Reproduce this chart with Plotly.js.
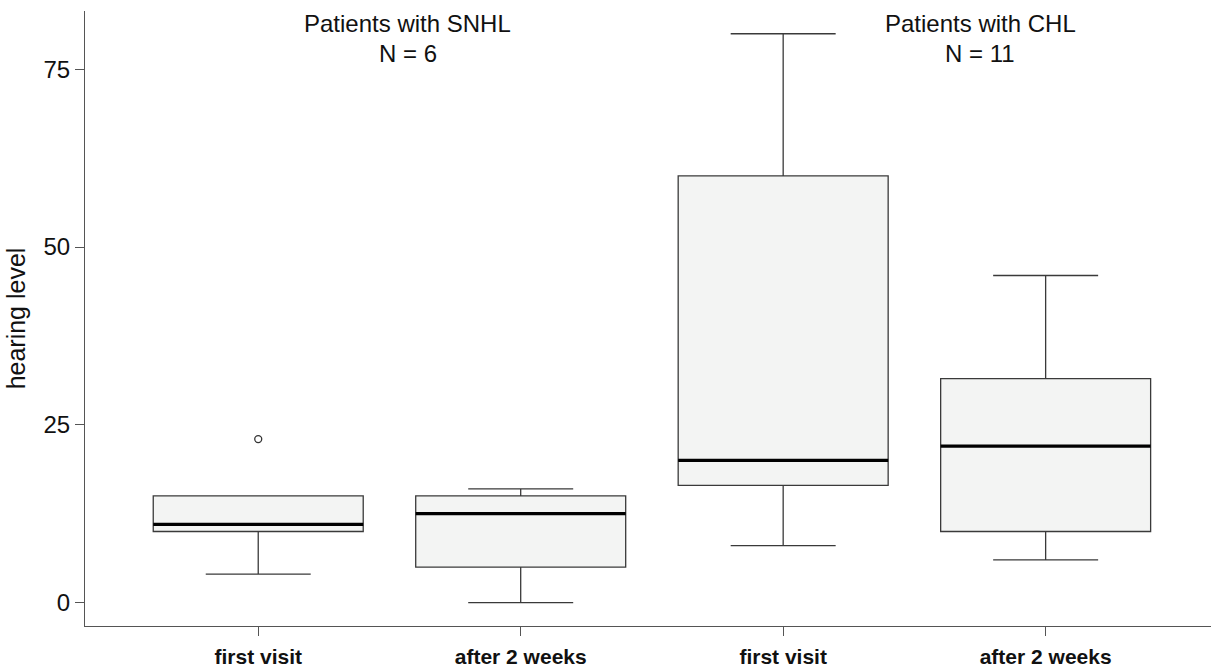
<!DOCTYPE html>
<html>
<head>
<meta charset="utf-8">
<script src="https://cdn.plot.ly/plotly-3.0.1.min.js"></script>
<style>html,body{margin:0;padding:0;background:#fff;}#chart{width:1211px;height:668px;}</style>
</head>
<body>
<div id="chart"></div>
<script>
// Data
const categories = ["first visit", "after 2 weeks", "first visit", "after 2 weeks"];
const positions = [0, 1, 2, 3];
const lowerFence = [4, 0, 8, 6];
const q1 = [10, 5, 16.5, 10];
const medians = [11, 12.5, 20, 22];
const q3 = [15, 15, 60, 31.5];
const upperFence = [15, 16, 80, 46];
const outlierX = [0];
const outlierY = [23];
const groupTitles = ["Patients with SNHL", "Patients with CHL"];
const groupCounts = ["N = 6", "N = 11"];
const groupLabelX = [0.57, 2.75];

const boxWidth = 0.8;

const traces = [{
  type: 'box',
  x: positions,
  q1: q1,
  median: medians,
  q3: q3,
  lowerfence: lowerFence,
  upperfence: upperFence,
  width: boxWidth,
  whiskerwidth: 0.5,
  fillcolor: '#f3f4f3',
  line: {color: '#3a3a3a', width: 1.3},
  boxpoints: false,
  hoverinfo: 'skip',
  showlegend: false
}];

// Thick median lines
positions.forEach((p, i) => {
  traces.push({
    type: 'scatter',
    mode: 'lines',
    x: [p - boxWidth / 2, p + boxWidth / 2],
    y: [medians[i], medians[i]],
    line: {color: '#000', width: 3.2},
    hoverinfo: 'skip',
    showlegend: false
  });
});

traces.push({
  type: 'scatter',
  mode: 'markers',
  x: outlierX,
  y: outlierY,
  marker: {symbol: 'circle-open', size: 7, color: '#333', line: {width: 1.3, color: '#333'}},
  hoverinfo: 'skip',
  showlegend: false
});

const annFont = {size: 24, color: '#111', family: 'Liberation Sans, Arial, sans-serif'};
const annotations = [];
groupTitles.forEach((t, i) => {
  annotations.push({text: t, x: groupLabelX[i], xref: 'x', y: 0.9789, yref: 'paper',
    yanchor: 'middle', xanchor: 'center', showarrow: false, font: annFont});
  annotations.push({text: groupCounts[i], x: groupLabelX[i], xref: 'x', y: 0.9317, yref: 'paper',
    yanchor: 'middle', xanchor: 'center', showarrow: false, font: annFont});
});

const layout = {
  width: 1211,
  height: 668,
  margin: {l: 85, r: 0, t: 11, b: 42},
  paper_bgcolor: '#fff',
  plot_bgcolor: '#fff',
  font: {family: 'Liberation Sans, Arial, sans-serif', color: '#111'},
  xaxis: {
    range: [-0.66, 3.63],
    tickvals: positions,
    ticktext: categories,
    tickfont: {size: 21, family: 'Liberation Sans, Arial, sans-serif', weight: 'bold', color: '#111'},
    ticks: 'outside',
    ticklen: 9,
    tickcolor: '#555',
    ticklabelstandoff: 3,
    showline: true,
    linecolor: '#555',
    linewidth: 1,
    showgrid: false,
    zeroline: false,
    fixedrange: true
  },
  yaxis: {
    range: [-3.29, 83.2],
    tickvals: [0, 25, 50, 75],
    ticks: 'outside',
    ticklen: 9,
    tickcolor: '#555',
    tickfont: {size: 24, color: '#111'},
    showline: true,
    linecolor: '#555',
    linewidth: 1,
    showgrid: false,
    zeroline: false,
    title: {text: 'hearing level', font: {size: 25, color: '#111'}, standoff: 10},
    fixedrange: true
  },
  annotations: annotations
};

Plotly.newPlot('chart', traces, layout, {displayModeBar: false, staticPlot: true});
</script>
</body>
</html>
